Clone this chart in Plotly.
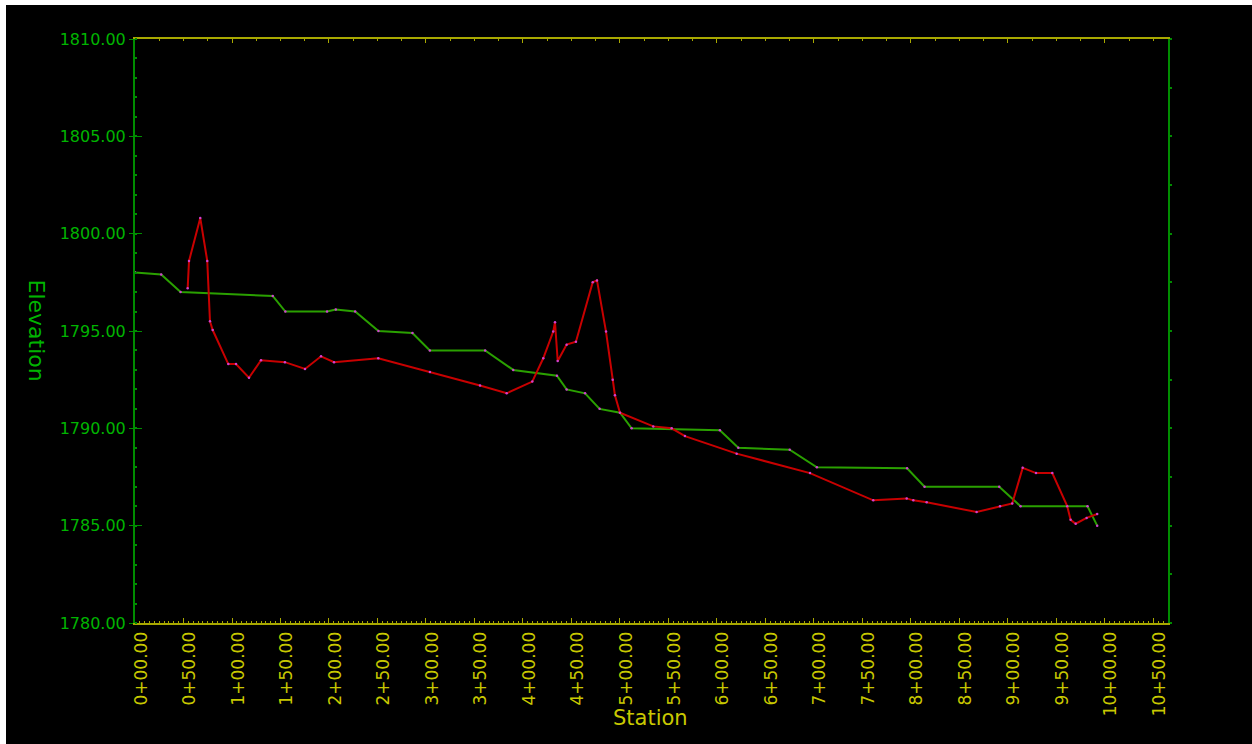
import plotly.graph_objects as go

# Existing ground / design profile (green) - station (ft), elevation (ft)
green_sta = [0, 27, 47, 142, 155, 198, 207, 227, 251, 286, 304, 361, 390, 435, 445, 464, 479, 500,
             512, 603, 622, 675, 703, 796, 814, 891, 913, 982, 992]
green_elev = [1798.0, 1797.9, 1797.0, 1796.8, 1796.0, 1796.0, 1796.1, 1796.0, 1795.0, 1794.9, 1794.0,
              1794.0, 1793.0, 1792.7, 1792.0, 1791.8, 1791.0, 1790.8, 1790.0, 1789.9, 1789.0, 1788.9,
              1788.0, 1787.95, 1787.0, 1787.0, 1786.0, 1786.0, 1785.0]

# Second profile (red)
red_sta = [54.3, 55.7, 67.3, 74.5, 77.3, 80.1, 96.2, 104.1, 117.5, 129.9, 154.6, 175.3, 191.8, 205.2,
           250.8, 304.1, 355.7, 383.2, 409.6, 420.9, 431.2, 433.0, 435.8, 445.0, 454.6, 471.9, 476.3,
           485.6, 492.5, 494.8, 500.0, 534.3, 553.3, 567.0, 620.3, 695.9, 761.1, 795.6, 802.4, 816.2,
           867.7, 891.8, 904.4, 915.2, 928.9, 945.7, 961.1, 964.6, 969.8, 981.1, 992.0]
red_elev = [1797.2, 1798.6, 1800.8, 1798.6, 1795.5, 1795.05, 1793.3, 1793.3, 1792.6, 1793.5, 1793.4,
            1793.05, 1793.7, 1793.4, 1793.6, 1792.9, 1792.2, 1791.8, 1792.4, 1793.6, 1794.97, 1795.45,
            1793.46, 1794.3, 1794.45, 1797.5, 1797.6, 1794.97, 1792.5, 1791.7, 1790.8, 1790.1, 1790.0,
            1789.6, 1788.7, 1787.7, 1786.3, 1786.4, 1786.3, 1786.2, 1785.7, 1786.0, 1786.14, 1787.97,
            1787.7, 1787.7, 1786.0, 1785.3, 1785.1, 1785.4, 1785.6]

# Axis ticks
x_tick_vals = list(range(0, 1051, 50))
x_tick_text = ["0+00.00", "0+50.00", "1+00.00", "1+50.00", "2+00.00", "2+50.00", "3+00.00",
               "3+50.00", "4+00.00", "4+50.00", "5+00.00", "5+50.00", "6+00.00", "6+50.00",
               "7+00.00", "7+50.00", "8+00.00", "8+50.00", "9+00.00", "9+50.00", "10+00.00",
               "10+50.00"]
y_tick_vals = [1780, 1785, 1790, 1795, 1800, 1805, 1810]
y_tick_text = ["1780.00", "1785.00", "1790.00", "1795.00", "1800.00", "1805.00", "1810.00"]

X_RANGE = [0, 1065]
Y_RANGE = [1780, 1810]

GREEN_TXT = "#00b400"
GREEN_AX = "#008c00"
YELLOW_TXT = "#c8c800"
YELLOW_AX = "#a8a800"
GREEN_LINE = "#2aa000"
RED_LINE = "#c80000"
FONT = "DejaVu Sans"

fig = go.Figure()

fig.add_trace(go.Scatter(
    x=green_sta, y=green_elev, mode="lines+markers",
    line=dict(color=GREEN_LINE, width=2),
    marker=dict(color="#d040d0", size=2.5),
    showlegend=False, hoverinfo="skip"))

fig.add_trace(go.Scatter(
    x=red_sta, y=red_elev, mode="lines+markers",
    line=dict(color=RED_LINE, width=2),
    marker=dict(color="#d040d0", size=2.5),
    showlegend=False, hoverinfo="skip"))

# invisible traces to activate the extra axes
fig.add_trace(go.Scatter(x=[None], y=[None], xaxis="x2", yaxis="y2", showlegend=False))
fig.add_trace(go.Scatter(x=[None], y=[None], xaxis="x", yaxis="y3", showlegend=False))

fig.update_layout(
    width=1246, height=739,
    margin=dict(l=129, r=84, t=34, b=121),
    paper_bgcolor="black",
    plot_bgcolor="black",
    showlegend=False,
    font=dict(family=FONT),
    xaxis=dict(
        range=X_RANGE, tickmode="array", tickvals=x_tick_vals, ticktext=x_tick_text,
        tickangle=-90, tickfont=dict(color=YELLOW_TXT, size=17, family=FONT),
        ticklabelshift=6,
        showgrid=False, zeroline=False,
        showline=True, linecolor=YELLOW_AX, linewidth=2,
        ticks="inside", ticklen=5, tickcolor=YELLOW_AX, tickwidth=1,
        minor=dict(dtick=5, ticks="inside", ticklen=2, tickcolor=YELLOW_AX, tickwidth=1),
    ),
    xaxis2=dict(
        range=X_RANGE, overlaying="x", side="top", anchor="y",
        tickmode="linear", tick0=0, dtick=100, showticklabels=False,
        showgrid=False, zeroline=False,
        showline=True, linecolor=YELLOW_AX, linewidth=2,
        ticks="inside", ticklen=4, tickcolor=YELLOW_AX,
        minor=dict(dtick=25, ticks="inside", ticklen=2, tickcolor=YELLOW_AX),
    ),
    yaxis=dict(
        range=Y_RANGE, tickmode="array", tickvals=y_tick_vals, ticktext=y_tick_text,
        tickfont=dict(color=GREEN_TXT, size=16, family=FONT),
        showgrid=False, zeroline=False,
        showline=True, linecolor=GREEN_AX, linewidth=2,
        ticks="outside", ticklen=4, tickcolor=GREEN_AX, tickwidth=1,
        minor=dict(dtick=1, ticks="inside", ticklen=2, tickcolor=GREEN_AX, tickwidth=2),
    ),
    yaxis3=dict(
        range=Y_RANGE, overlaying="y", anchor="x", side="left",
        tickmode="linear", tick0=1780, dtick=5, showticklabels=False,
        showgrid=False, zeroline=False, showline=False,
        ticks="inside", ticklen=7, tickcolor=GREEN_AX, tickwidth=1,
    ),
    yaxis2=dict(
        range=Y_RANGE, overlaying="y", side="right", anchor="x",
        tickmode="linear", tick0=1780, dtick=2.5, showticklabels=False,
        showgrid=False, zeroline=False,
        showline=True, linecolor=GREEN_AX, linewidth=2,
        ticks="outside", ticklen=2, tickcolor=GREEN_AX, tickwidth=2,
    ),
    annotations=[
        dict(text="Station", xref="paper", yref="paper", x=0.4995, y=-0.1627,
             xanchor="center", yanchor="middle", showarrow=False,
             font=dict(color=YELLOW_TXT, size=21, family=FONT)),
        dict(text="Elevation", xref="paper", yref="paper", x=-0.0944, y=0.5,
             xanchor="center", yanchor="middle", showarrow=False, textangle=90,
             font=dict(color=GREEN_TXT, size=22, family=FONT)),
    ],
)

fig.write_html("out.html",
               post_script="document.body.style.margin='5px 0 0 6px';")
